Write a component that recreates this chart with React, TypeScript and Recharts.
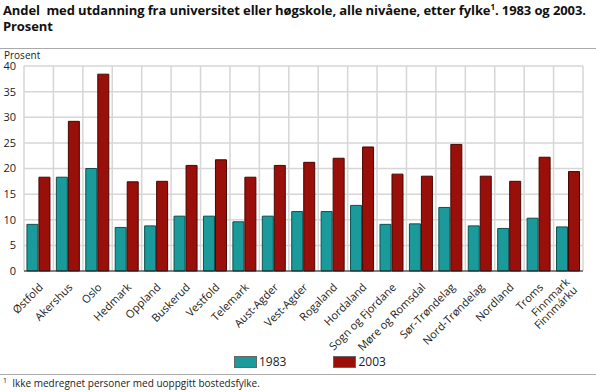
import React from "react";
import { BarChart, Bar, XAxis, YAxis, CartesianGrid } from "recharts";

const categories = [
  "Østfold", "Akershus", "Oslo", "Hedmark", "Oppland", "Buskerud", "Vestfold",
  "Telemark", "Aust-Agder", "Vest-Agder", "Rogaland", "Hordaland", "Sogn og Fjordane",
  "Møre og Romsdal", "Sør-Trøndelag", "Nord-Trøndelag", "Nordland", "Troms",
  "Finnmark\nFinnmárku",
];
const values1983 = [9.1, 18.3, 20.0, 8.5, 8.8, 10.7, 10.7, 9.6, 10.7, 11.6, 11.6, 12.8, 9.1, 9.2, 12.4, 8.8, 8.3, 10.3, 8.6];
const values2003 = [18.3, 29.2, 38.4, 17.4, 17.5, 20.6, 21.7, 18.3, 20.6, 21.2, 22.0, 24.2, 18.9, 18.5, 24.7, 18.5, 17.5, 22.2, 19.4];
const yTicks = [0, 5, 10, 15, 20, 25, 30, 35, 40];
const seriesNames = ["1983", "2003"];

const data = categories.map((c, i) => ({ name: c, v1983: values1983[i], v2003: values2003[i] }));

const FONT = "'Open Sans', 'DejaVu Sans', sans-serif";
const TEAL = "#1a9a9a";
const RED = "#990f0a";

const XTick = (props: any) => {
  const { x, y, payload } = props;
  const lines = String(payload.value).split("\n");
  const multi = lines.length > 1;
  return (
    <g transform={`translate(${x + (multi ? 2 : 5)},${y + (multi ? 4 : 9)})`}>
      <text transform="rotate(-45)" textAnchor="end" fontSize={11} fill="#222" fontFamily={FONT}>
        {lines.map((l, i) => (
          <tspan key={i} x={0} dy={i === 0 ? 0 : 11}>{l}</tspan>
        ))}
      </text>
    </g>
  );
};

export default function App() {
  return (
    <div style={{ position: "absolute", left: 0, top: 0, width: 596, height: 392, background: "#fff", fontFamily: FONT }}>
      <div style={{ position: "absolute", left: 3, top: 2, fontSize: 13, fontWeight: 700, lineHeight: "16px", color: "#111", whiteSpace: "nowrap", letterSpacing: -0.1 }}>
        Andel&nbsp; med utdanning fra universitet eller høgskole, alle nivåene, etter fylke<span style={{ fontSize: 8, position: "relative", top: -5, lineHeight: "8px" }}>1</span>. 1983 og 2003.<br />Prosent
      </div>
      <div style={{ position: "absolute", left: 0, top: 48, width: 596, height: 1, background: "#aaa" }} />
      <div style={{ position: "absolute", left: 4, top: 50, fontSize: 10, lineHeight: "11px", color: "#222" }}>Prosent</div>
      <div style={{ position: "absolute", left: 0, top: 0 }}>
        <BarChart
          width={596}
          height={392}
          data={data}
          margin={{ top: 66, right: 13, bottom: 41, left: 0 }}
          barCategoryGap="10%"
          barGap={1}
        >
          <CartesianGrid
            stroke="#d6d6d6"
            strokeWidth={1.5}
            verticalCoordinatesGenerator={(p: any) => {
              const o = p.offset;
              const n = categories.length;
              return Array.from({ length: n + 1 }, (_, i) => o.left + (i * o.width) / n);
            }}
          />
          <XAxis
            dataKey="name"
            interval={0}
            tick={<XTick />}
            tickLine={false}
            axisLine={{ stroke: "#222" }}
            height={80}
          />
          <YAxis
            width={24}
            domain={[0, 40]}
            ticks={yTicks}
            tickLine={false}
            axisLine={false}
            tick={{ fontSize: 11, fill: "#222", fontFamily: FONT }}
            tickMargin={2}
          />
          <Bar dataKey="v1983" name="1983" fill={TEAL} stroke="#0e5050" strokeWidth={1} isAnimationActive={false} />
          <Bar dataKey="v2003" name="2003" fill={RED} stroke="#4a0503" strokeWidth={1} isAnimationActive={false} />
        </BarChart>
      </div>
      <div style={{ position: "absolute", left: 234, top: 355, display: "flex", fontSize: 12, color: "#222", lineHeight: "14px" }}>
        {seriesNames.map((n, i) => (
          <div key={n} style={{ display: "flex", alignItems: "center", marginRight: i === 0 ? 47 : 0 }}>
            <div style={{ width: 23, height: 12, background: i === 0 ? TEAL : RED, border: "1px solid #666", boxSizing: "border-box" }} />
            <span style={{ marginLeft: 2 }}>{n}</span>
          </div>
        ))}
      </div>
      <div style={{ position: "absolute", left: 0, top: 374, width: 596, height: 1, background: "#aaa" }} />
      <div style={{ position: "absolute", left: 3, top: 376, fontSize: 10, color: "#222", whiteSpace: "nowrap" }}>
        <sup style={{ fontSize: 7 }}>1</sup>&nbsp; Ikke medregnet personer med uoppgitt bostedsfylke.
      </div>
    </div>
  );
}
